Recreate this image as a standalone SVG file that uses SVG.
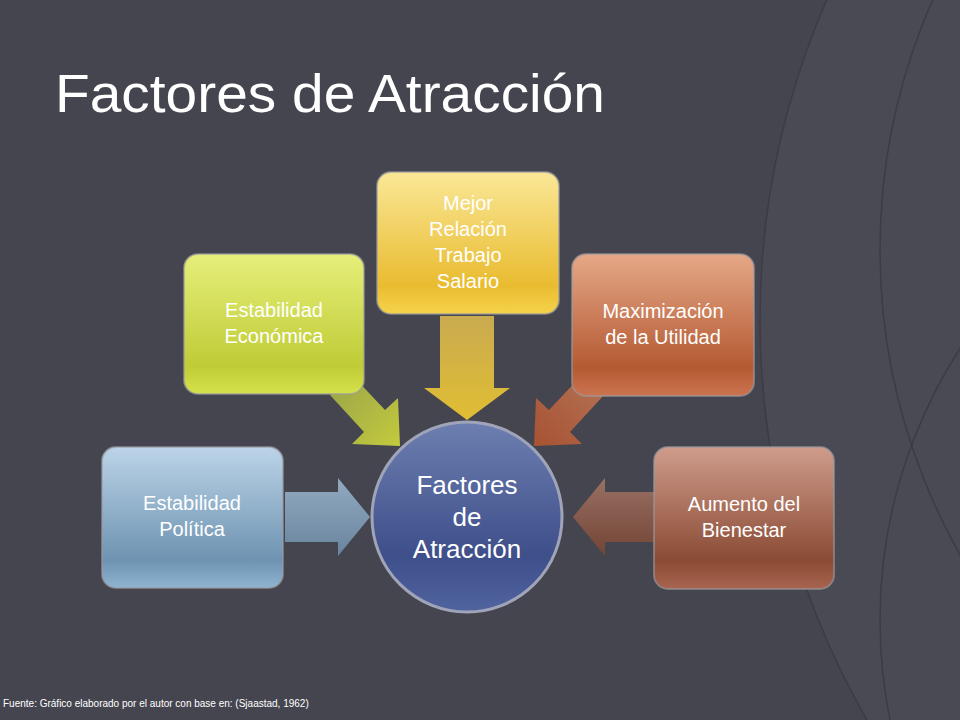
<svg xmlns="http://www.w3.org/2000/svg" width="960" height="720" viewBox="0 0 960 720">
<defs>
<linearGradient id="gBlue" x1="0" y1="0" x2="0" y2="1"><stop offset="0" stop-color="#bcd4e8"/><stop offset="0.8" stop-color="#6e93b1"/><stop offset="1" stop-color="#8fb4d2"/></linearGradient>
<linearGradient id="gGreen" x1="0" y1="0" x2="0" y2="1"><stop offset="0" stop-color="#e6ef7a"/><stop offset="0.8" stop-color="#bfcc36"/><stop offset="1" stop-color="#d6e24c"/></linearGradient>
<linearGradient id="gGold" x1="0" y1="0" x2="0" y2="1"><stop offset="0" stop-color="#fae797"/><stop offset="0.8" stop-color="#e9bc30"/><stop offset="1" stop-color="#f6d34a"/></linearGradient>
<linearGradient id="gOrange" x1="0" y1="0" x2="0" y2="1"><stop offset="0" stop-color="#e6a887"/><stop offset="0.8" stop-color="#b45a33"/><stop offset="1" stop-color="#cc7450"/></linearGradient>
<linearGradient id="gBrown" x1="0" y1="0" x2="0" y2="1"><stop offset="0" stop-color="#cf9c8c"/><stop offset="0.8" stop-color="#8a4b34"/><stop offset="1" stop-color="#a86450"/></linearGradient>
<linearGradient id="gCircle" x1="0" y1="0" x2="0" y2="1"><stop offset="0" stop-color="#6d7fb0"/><stop offset="0.7" stop-color="#3e4f8a"/><stop offset="1" stop-color="#5064a0"/></linearGradient>
<linearGradient id="aBlue" x1="0" y1="0" x2="0" y2="1"><stop offset="0" stop-color="#9fbcd4"/><stop offset="1" stop-color="#6e8fab"/></linearGradient>
<linearGradient id="aGold" x1="0" y1="0" x2="0" y2="1"><stop offset="0" stop-color="#d8b650"/><stop offset="1" stop-color="#f2cb30"/></linearGradient>
<linearGradient id="aGreen" x1="0" y1="0" x2="1" y2="1"><stop offset="0" stop-color="#a8b448"/><stop offset="1" stop-color="#d9e23a"/></linearGradient>
<linearGradient id="aOrange" x1="1" y1="0" x2="0" y2="1"><stop offset="0" stop-color="#c87a58"/><stop offset="1" stop-color="#b8552c"/></linearGradient>
<linearGradient id="aBrown" x1="0" y1="0" x2="0" y2="1"><stop offset="0" stop-color="#a87868"/><stop offset="1" stop-color="#7a4430"/></linearGradient>
</defs>
<style>
.box{stroke:#9a9aa0;stroke-opacity:0.6;stroke-width:2}
.t{font-family:"Liberation Sans",Arial,sans-serif;font-size:20px;fill:#ffffff;text-anchor:middle}
.c{font-size:26px}
.ring{fill:none;stroke:#3c3c46;stroke-width:1.5}
</style>
<rect width="960" height="720" fill="#45454f"/>
<circle cx="1560" cy="320" r="800" fill="#4a4a55"/>
<circle cx="1560" cy="320" r="800" class="ring"/>
<circle cx="1500" cy="250" r="620" class="ring"/>
<circle cx="1380" cy="620" r="500" class="ring"/>
<text x="55" y="112" font-family="Liberation Sans, Arial, sans-serif" font-size="54" fill="#ffffff" textLength="550" lengthAdjust="spacingAndGlyphs">Factores de Atracción</text>
<g id="connectors">
<path d="M285,492 H338 V478 L370,517 L338,556 V542 H285 Z" fill="url(#aBlue)" opacity="0.85"/>
<path d="M440,316 H494 V388 H510 L467,420 L424,388 H440 Z" fill="url(#aGold)" opacity="0.9"/>
<path d="M330,395 L352,375 L385,410 L398,398 L400,446 L352,444 L364,432 Z" fill="url(#aGreen)" opacity="0.85"/>
<path d="M604,395 L582,375 L549,410 L536,398 L534,446 L582,444 L570,432 Z" fill="url(#aOrange)" opacity="0.85"/>
<path d="M655,492 H605 V478 L573,517 L605,556 V542 H655 Z" fill="url(#aBrown)" opacity="0.85"/>
</g>
<g id="n-politica"><rect class="box" x="102" y="447" width="181" height="141" rx="14" fill="url(#gBlue)"/><text class="t" x="192" y="510">Estabilidad</text><text class="t" x="192" y="536">Política</text></g>
<g id="n-economica"><rect class="box" x="184" y="254" width="180" height="140" rx="14" fill="url(#gGreen)"/><text class="t" x="274" y="317">Estabilidad</text><text class="t" x="274" y="343">Económica</text></g>
<g id="n-relacion"><rect class="box" x="377" y="172" width="182" height="142" rx="14" fill="url(#gGold)"/><text class="t" x="468" y="210">Mejor</text><text class="t" x="468" y="236">Relación</text><text class="t" x="468" y="262">Trabajo</text><text class="t" x="468" y="288">Salario</text></g>
<g id="n-utilidad"><rect class="box" x="572" y="254" width="182" height="142" rx="14" fill="url(#gOrange)"/><text class="t" x="663" y="318">Maximización</text><text class="t" x="663" y="344">de la Utilidad</text></g>
<g id="n-bienestar"><rect class="box" x="654" y="447" width="180" height="142" rx="14" fill="url(#gBrown)"/><text class="t" x="744" y="511">Aumento del</text><text class="t" x="744" y="537">Bienestar</text></g>
<g id="n-centro"><circle cx="467" cy="517" r="95" fill="url(#gCircle)" stroke="#a0a4b8" stroke-width="3"/><text class="t c" x="467" y="494">Factores</text><text class="t c" x="467" y="526">de</text><text class="t c" x="467" y="558">Atracción</text></g>
<text x="3" y="707" font-family="Liberation Sans, Arial, sans-serif" font-size="10" fill="#ffffff">Fuente: Gráfico elaborado por el autor con base en: (Sjaastad, 1962)</text>
</svg>
